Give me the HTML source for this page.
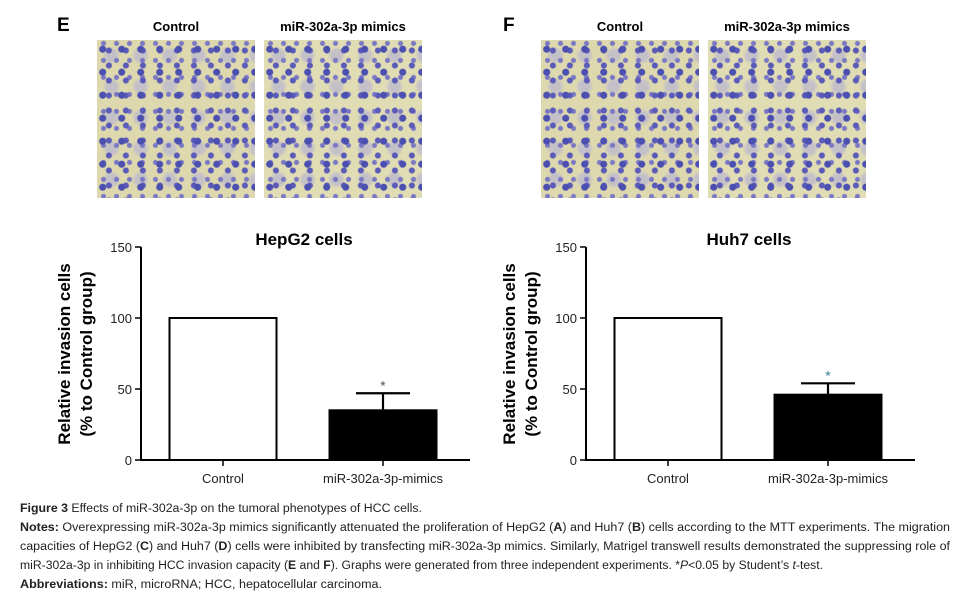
<!DOCTYPE html>
<html><head><meta charset="utf-8"><style>
body{margin:0;width:965px;height:597px;background:#fff;overflow:hidden;font-family:"Liberation Sans",sans-serif}
.mic{position:absolute;width:158px;height:158px;background-color:#ddd8ae;
background-image:radial-gradient(circle at 30% 40%,#4b4fb0 0 3px,transparent 4px),radial-gradient(circle at 70% 70%,#5a5ab8 0 2.5px,transparent 3.5px),radial-gradient(circle at 50% 20%,#7a78c4 0 2px,transparent 3px),radial-gradient(circle,#c4c0c8 0 5px,transparent 9px);
background-size:19px 23px,17px 15px,13px 17px,29px 31px}
</style></head><body>
<svg width="965" height="597" style="position:absolute;left:0;top:0">
<text x="57" y="31" font-size="19" font-weight="bold">E</text>
<text x="503" y="31" font-size="19" font-weight="bold">F</text>
<g font-size="13" font-weight="bold" text-anchor="middle">
<text x="176" y="31">Control</text>
<text x="343" y="31">miR-302a-3p mimics</text>
<text x="620" y="31">Control</text>
<text x="787" y="31">miR-302a-3p mimics</text>
</g>
<g id="charts"></g>
<g font-size="11.5" fill="#222">
<text x="20" y="512" textLength="402" lengthAdjust="spacingAndGlyphs"><tspan font-weight="bold">Figure 3</tspan> Effects of miR-302a-3p on the tumoral phenotypes of HCC cells.</text>
<text x="20" y="531" textLength="930" lengthAdjust="spacingAndGlyphs"><tspan font-weight="bold">Notes:</tspan> Overexpressing miR-302a-3p mimics significantly attenuated the proliferation of HepG2 (<tspan font-weight="bold">A</tspan>) and Huh7 (<tspan font-weight="bold">B</tspan>) cells according to the MTT experiments. The migration</text>
<text x="20" y="550" textLength="930" lengthAdjust="spacingAndGlyphs">capacities of HepG2 (<tspan font-weight="bold">C</tspan>) and Huh7 (<tspan font-weight="bold">D</tspan>) cells were inhibited by transfecting miR-302a-3p mimics. Similarly, Matrigel transwell results demonstrated the suppressing role of</text>
<text x="20" y="569" textLength="803" lengthAdjust="spacingAndGlyphs">miR-302a-3p in inhibiting HCC invasion capacity (<tspan font-weight="bold">E</tspan> and <tspan font-weight="bold">F</tspan>). Graphs were generated from three independent experiments. *<tspan font-style="italic">P</tspan>&lt;0.05 by Student’s <tspan font-style="italic">t</tspan>-test.</text>
<text x="20" y="588" textLength="362" lengthAdjust="spacingAndGlyphs"><tspan font-weight="bold">Abbreviations:</tspan> miR, microRNA; HCC, hepatocellular carcinoma.</text>
</g>
</svg>
<div class="mic" style="left:97px;top:40px"></div>
<div class="mic" style="left:264px;top:40px;background-color:#e0dcb4"></div>
<div class="mic" style="left:541px;top:40px"></div>
<div class="mic" style="left:708px;top:40px;background-color:#e0dcb4"></div>
<script>
const categories=["Control","miR-302a-3p-mimics"];
const titles=["HepG2 cells","Huh7 cells"];
const hepg2Values=[100,35];
const hepg2Errors=[0,12];
const huh7Values=[100,46];
const huh7Errors=[0,8];
const yTicks=[0,50,100,150];
const NS="http://www.w3.org/2000/svg";
const root=document.getElementById("charts");
function mk(tag,attrs,parent){const e=document.createElementNS(NS,tag);for(const k in attrs)e.setAttribute(k,attrs[k]);parent.appendChild(e);return e;}
function drawChart(ox,title,vals,errs,starColor,key){
  const g=mk("g",{},root);
  
  
  const y0=460,y1=247;
  const y=v=>y0-(v/150)*(y0-y1);
  const xc=i=>ox+82+i*160;
  const bw=107;
  const t=mk("text",{x:ox+163,y:245,"font-size":17,"font-weight":"bold","text-anchor":"middle"},g);t.textContent=title;
  
  
  const yt=mk("text",{transform:`translate(${ox-71},354) rotate(-90)`,"font-size":17,"font-weight":"bold","text-anchor":"middle"},g);
  
  
  const a=mk("tspan",{x:0,dy:0},yt);a.textContent="Relative invasion cells";
  const b=mk("tspan",{x:0,dy:22},yt);b.textContent="(% to Control group)";
  vals.forEach((v,i)=>{
    if(errs[i]>0){
      const e=mk("path",{d:`M${xc(i)} ${y(v)}V${y(v+errs[i])}M${xc(i)-27} ${y(v+errs[i])}H${xc(i)+27}`,stroke:"#000","stroke-width":2.2,fill:"none"},g);
      
      
      const s=mk("text",{x:xc(i),y:y(v+errs[i])-3,"font-size":14,"text-anchor":"middle",fill:starColor},g);s.textContent="*";
      
      
    }
    const r=mk("rect",{x:xc(i)-bw/2,y:y(v),width:bw,height:y0-y(v),fill:i?"#000":"#fff",stroke:"#000","stroke-width":2},g);
    
    
    const tk=mk("line",{x1:xc(i),x2:xc(i),y1:y0,y2:y0+6,stroke:"#000","stroke-width":1.5},g);
    
    
    const l=mk("text",{x:xc(i),y:483,"font-size":13,"text-anchor":"middle",fill:"#222"},g);l.textContent=categories[i];
    
    
  });
  yTicks.forEach(v=>{
    const tk=mk("line",{x1:ox-6,x2:ox,y1:y(v),y2:y(v),stroke:"#000","stroke-width":1.5},g);
    
    
    const l=mk("text",{x:ox-9,y:y(v)+5,"font-size":13,"text-anchor":"end",fill:"#222"},g);l.textContent=v;
    
    
  });
  const ax=mk("path",{d:`M${ox} ${y1}V${y0}H${ox+329}`,stroke:"#000","stroke-width":2,fill:"none"},g);
  
  
}
drawChart(141,titles[0],hepg2Values,hepg2Errors,"#555","hepg2");
drawChart(586,titles[1],huh7Values,huh7Errors,"#2a7f8a","huh7");
</script>
</body></html>
